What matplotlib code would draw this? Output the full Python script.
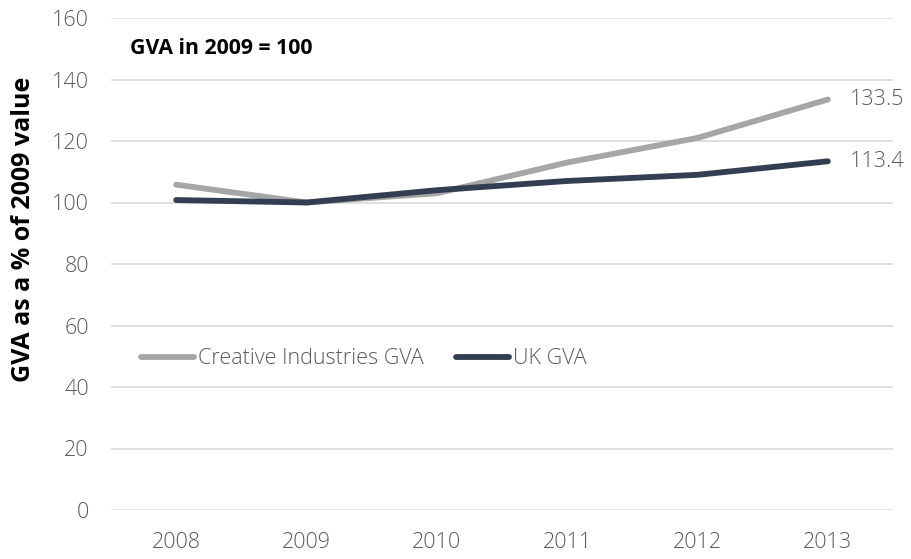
import matplotlib
matplotlib.use('Agg')
import matplotlib.pyplot as plt

years = ['2008', '2009', '2010', '2011', '2012', '2013']
creative_gva = [105.8, 100.0, 103.0, 113.0, 121.0, 133.5]
uk_gva = [100.8, 100.0, 104.0, 107.0, 109.0, 113.4]

grey = '#A6A6A6'
navy = '#323F52'
tick_col = '#595959'

plt.rcParams['font.family'] = ['Open Sans', 'DejaVu Sans']

fig = plt.figure(figsize=(9.11, 5.59), dpi=100)
ax = fig.add_axes([111 / 911, 49 / 559, 782 / 911, 492 / 559])

x = range(len(years))
ax.plot(x, creative_gva, color=grey, lw=4.2, solid_capstyle='round',
        solid_joinstyle='round', label='Creative Industries GVA', zorder=3)
ax.plot(x, uk_gva, color=navy, lw=4.2, solid_capstyle='round',
        solid_joinstyle='round', label='UK GVA', zorder=4)

ax.set_xlim(-0.5, 5.5)
ax.set_ylim(0, 160)
ax.set_yticks(range(0, 161, 20))
ax.set_xticks(list(x))
ax.set_xticklabels(years)
ax.grid(axis='y', color='#D9D9D9', lw=1.2)
ax.set_axisbelow(True)
for s in ax.spines.values():
    s.set_visible(False)
ax.tick_params(length=0, labelsize=15.5, labelcolor=tick_col)
ax.tick_params(axis='y', pad=16)
ax.tick_params(axis='x', pad=16)
for lab in ax.get_xticklabels() + ax.get_yticklabels():
    lab.set_fontweight('light')

# end labels
ax.annotate(f'{creative_gva[-1]}', (5, creative_gva[-1]), xytext=(16, 0),
            textcoords='offset points', va='center', fontsize=15.5,
            color=tick_col, fontweight='light')
ax.annotate(f'{uk_gva[-1]}', (5, uk_gva[-1]), xytext=(16, 0),
            textcoords='offset points', va='center', fontsize=15.5,
            color=tick_col, fontweight='light')

ax.text(0.024, 0.939, 'GVA in 2009 = 100', transform=ax.transAxes,
        fontsize=15.3, fontweight='bold', color='black', va='center')

fig.text(24 / 911, 1 - 229 / 559, 'GVA as a % of 2009 value', rotation=90,
         fontsize=18, fontweight='bold', va='center', ha='center')

leg = ax.legend(loc='center left', bbox_to_anchor=(0.013, 0.307), ncol=2,
                frameon=False, fontsize=15.5, handlelength=2.5,
                handletextpad=0.15, columnspacing=1.5)
for t in leg.get_texts():
    t.set_color(tick_col)
    t.set_fontweight('light')

fig.savefig('out.png', dpi=100)
